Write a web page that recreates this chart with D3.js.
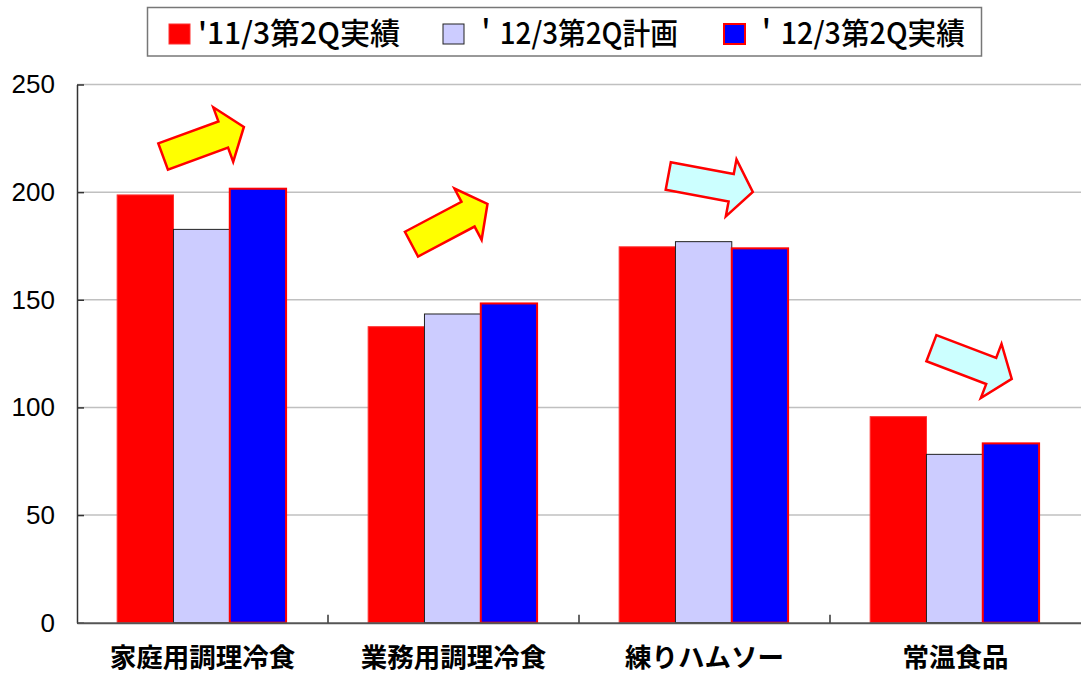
<!DOCTYPE html>
<html><head><meta charset="utf-8">
<script src="https://cdn.jsdelivr.net/npm/d3@7"></script>
<style>
html,body{margin:0;padding:0;background:#fff;}
svg{display:block;}
</style></head>
<body>
<svg id="chart" width="1081" height="675"></svg>
<script>
// ---- data ----
const categories = ["家庭用調理冷食", "業務用調理冷食", "練りハムソー", "常温食品"];
const seriesNames = ["'11/3第2Q実績", "＇12/3第2Q計画", "＇12/3第2Q実績"];
const actual2011 = [198.7, 137.5, 174.6, 95.7];
const plan2012 = [182.7, 143.4, 177.0, 78.2];
const actual2012 = [201.6, 148.3, 173.9, 83.3];
const yTicks = [0, 50, 100, 150, 200, 250];
// trend arrows: category, centre value, angle (deg), trend
const arrowCats = ["家庭用調理冷食", "業務用調理冷食", "練りハムソー", "常温食品"];
const arrowValues = [223.4, 185.2, 203.8, 120.4];
const arrowAngles = [-20.1, -27.9, 10.6, 20.9];
const arrowShift = [0.004, -0.016, 0.024, 0.064];
const arrowTrend = ["up", "up", "down", "down"];

(function () {
const seriesValues = [actual2011, plan2012, actual2012];
const seriesFill = ["#ff0000", "#ccccff", "#0000ff"];
const seriesStroke = ["#ff3030", "#222222", "#ff0000"];
const seriesStrokeW = [1, 1, 2];

const svg = d3.select("#chart");
const mLeft = 77, mRight = 1081, mTop = 84.5, mBottom = 622.7;

const x0 = d3.scaleBand().domain(categories).range([mLeft, mRight]).padding(0);
const bw = x0.bandwidth();
const x1 = d3.scaleBand().domain(d3.range(3)).range([bw * 0.16, bw * 0.833]).padding(0);
const y = d3.scaleLinear().domain([0, 250]).range([mBottom, mTop]);

// gridlines
svg.append("g").selectAll("line").data(yTicks.filter(d => d > 0)).join("line")
  .attr("x1", mLeft).attr("x2", mRight)
  .attr("y1", d => y(d)).attr("y2", d => y(d))
  .attr("stroke", "#c0c0c0").attr("stroke-width", 1.5);

// bars
const groups = svg.append("g").selectAll("g").data(categories).join("g")
  .attr("transform", c => `translate(${x0(c)},0)`);
groups.selectAll("rect").data((c, i) => seriesValues.map((s, k) => ({k, v: s[i]}))).join("rect")
  .attr("x", d => x1(d.k))
  .attr("width", x1.bandwidth())
  .attr("y", d => y(d.v))
  .attr("height", d => y(0) - y(d.v))
  .attr("fill", d => seriesFill[d.k])
  .attr("stroke", d => seriesStroke[d.k])
  .attr("stroke-width", d => seriesStrokeW[d.k]);

// y axis
const yAxis = d3.axisLeft(y).tickValues(yTicks).tickSize(-7).tickPadding(22).tickSizeOuter(0);
const gy = svg.append("g").attr("transform", `translate(${mLeft},0)`).call(yAxis);
gy.select(".domain").attr("stroke", "#333").attr("stroke-width", 1.5);
gy.selectAll(".tick line").attr("stroke", "#333").attr("stroke-width", 1.5);
gy.selectAll(".tick text").attr("font-family", "Liberation Sans, Arial, sans-serif")
  .attr("font-size", 26).attr("fill", "#000");

// x axis
const xAxis = d3.axisBottom(x0).tickSize(0).tickPadding(25).tickSizeOuter(0);
const gx = svg.append("g").attr("transform", `translate(0,${mBottom})`).call(xAxis);
gx.select(".domain").attr("stroke", "#555").attr("stroke-width", 2);
gx.selectAll(".tick text").attr("font-family", "Noto Sans CJK JP, sans-serif")
  .attr("font-weight", "bold").attr("font-size", 26.5).attr("fill", "#000");
// category separator ticks (inside)
svg.append("g").selectAll("line").data(categories.slice(1)).join("line")
  .attr("x1", c => x0(c)).attr("x2", c => x0(c))
  .attr("y1", mBottom).attr("y2", mBottom - 8)
  .attr("stroke", "#333").attr("stroke-width", 1.5);

// arrows
const L = 86, hl = 22, sh = 14, hh = 29;
const arrowPts = [[-L/2,-sh],[L/2-hl,-sh],[L/2-hl,-hh],[L/2,0],[L/2-hl,hh],[L/2-hl,sh],[-L/2,sh]];
svg.append("g").selectAll("polygon").data(arrowCats.map((c, i) => ({c, v: arrowValues[i], a: arrowAngles[i], s: arrowShift[i], t: arrowTrend[i]})))
  .join("polygon")
  .attr("points", arrowPts.map(p => p.join(",")).join(" "))
  .attr("transform", d => `translate(${x0(d.c) + bw/2 + d.s*bw},${y(d.v)}) rotate(${d.a})`)
  .attr("fill", d => d.t === "up" ? "#ffff00" : "#ccffff")
  .attr("stroke", "#ff0000").attr("stroke-width", 2.5).attr("stroke-linejoin", "miter");

// legend
const lg = svg.append("g");
lg.append("rect").attr("x", 147.5).attr("y", 7.5).attr("width", 834).attr("height", 48.5)
  .attr("fill", "#fff").attr("stroke", "#777").attr("stroke-width", 1.5);
const legSquareX = [169, 443, 724];
const legTextX = [198, 472, 752];
const legTextW = [202, 206, 213];
seriesNames.forEach((name, k) => {
  lg.append("rect").attr("x", legSquareX[k]).attr("y", 24).attr("width", 21).attr("height", 20)
    .attr("fill", seriesFill[k]).attr("stroke", seriesStroke[k]).attr("stroke-width", seriesStrokeW[k]);
  lg.append("text").attr("x", legTextX[k]).attr("y", 44)
    .attr("font-family", "Liberation Sans Narrow, Noto Sans CJK JP, sans-serif")
    .attr("font-size", 30).attr("font-weight", 500).attr("fill", "#000")
    .attr("textLength", legTextW[k]).attr("lengthAdjust", "spacingAndGlyphs")
    .text(name);
});
})();
</script>
</body></html>
